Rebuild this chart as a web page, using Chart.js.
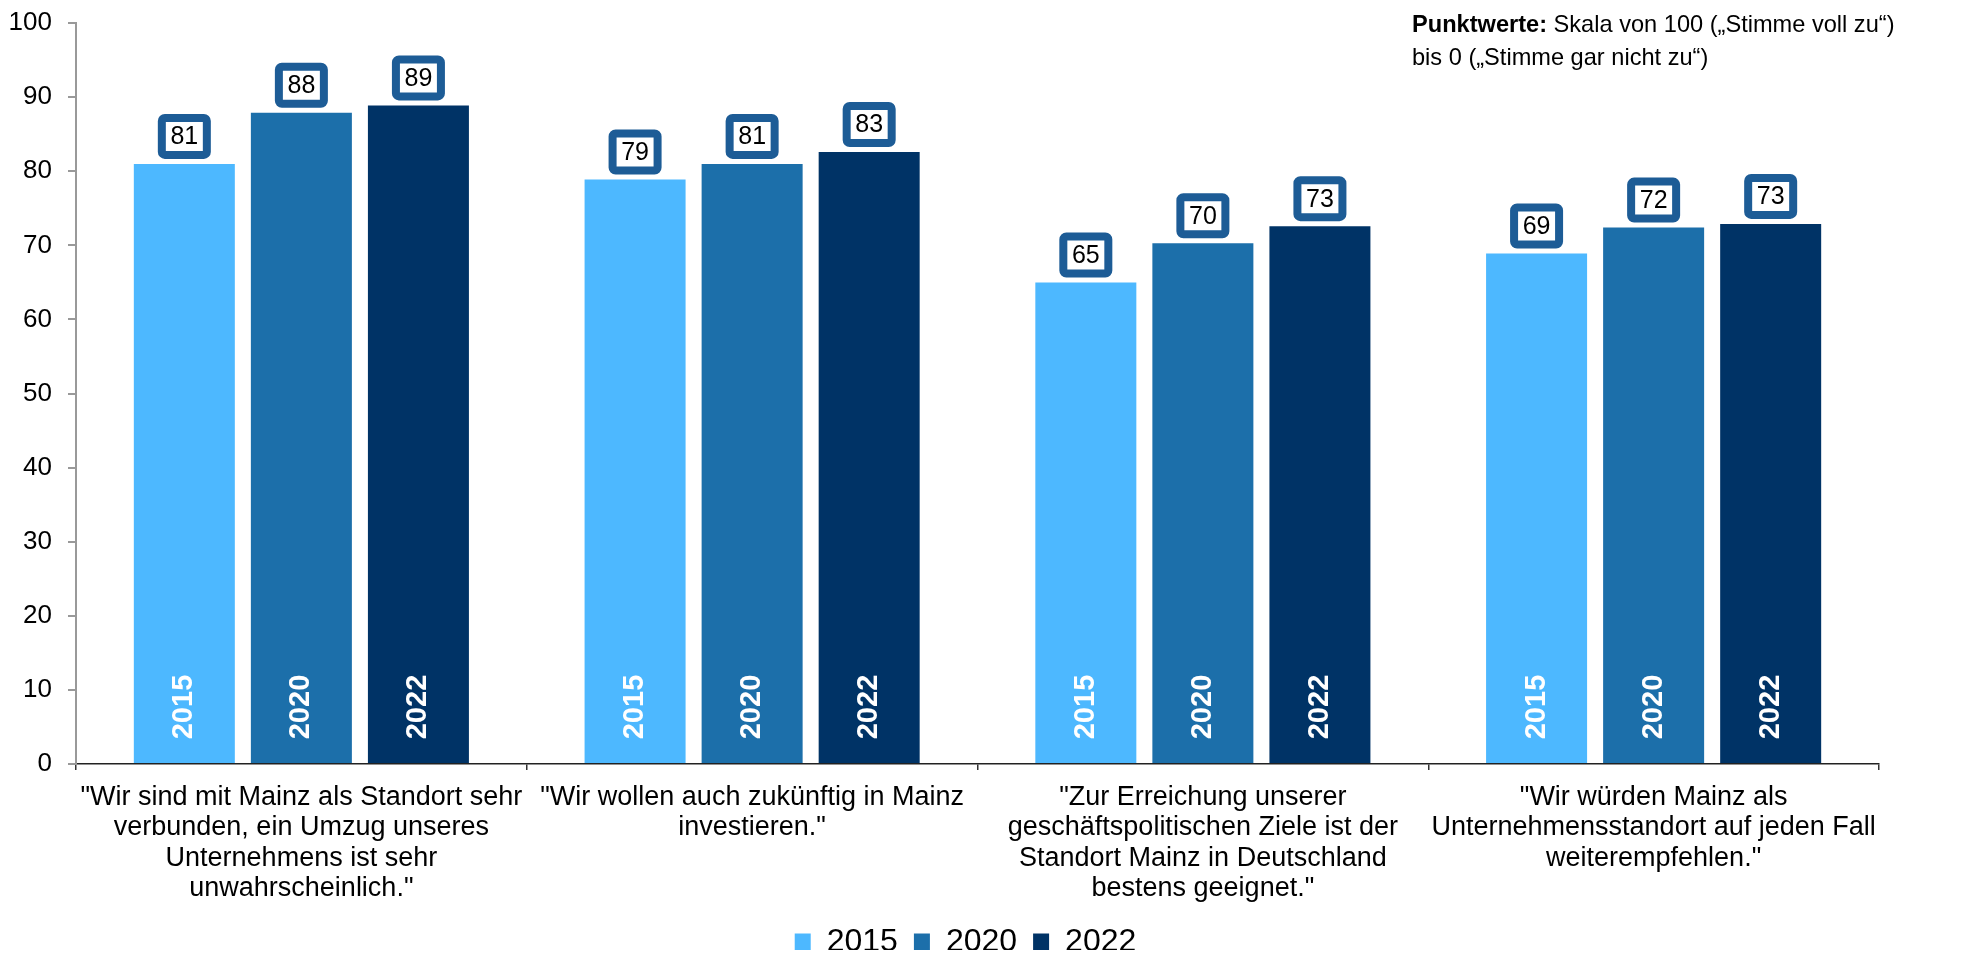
<!DOCTYPE html>
<html>
<head>
<meta charset="utf-8">
<script src="https://cdn.jsdelivr.net/npm/chart.js@4.4.0/dist/chart.umd.min.js"></script>
<style>
  html, body { margin: 0; padding: 0; background: #fff; }
</style>
</head>
<body>
<canvas id="myChart" width="1962" height="956"></canvas>
<script>
const categories = [
  ['"Wir sind mit Mainz als Standort sehr', 'verbunden, ein Umzug unseres', 'Unternehmens ist sehr', 'unwahrscheinlich."'],
  ['"Wir wollen auch zukünftig in Mainz', 'investieren."'],
  ['"Zur Erreichung unserer', 'geschäftspolitischen Ziele ist der', 'Standort Mainz in Deutschland', 'bestens geeignet."'],
  ['"Wir würden Mainz als', 'Unternehmensstandort auf jeden Fall', 'weiterempfehlen."']
];
const years = ["2015", "2020", "2022"];
const values2015 = [81.0, 78.9, 65.0, 68.9];
const values2020 = [87.9, 81.0, 70.3, 72.4];
const values2022 = [88.9, 82.6, 72.6, 72.9];
const barColors = ["#4DB8FF", "#1C6FAA", "#003366"];

const FONT = '"Liberation Sans", Arial, sans-serif';

// value boxes above the bars + year text inside the bars
const barLabels = {
  id: 'barLabels',
  afterDatasetsDraw(chart) {
    const ctx = chart.ctx;
    const base = chart.scales.y.getPixelForValue(0);
    chart.data.datasets.forEach((ds, i) => {
      chart.getDatasetMeta(i).data.forEach((bar, j) => {
        ctx.save();
        ctx.translate(bar.x, base - 57);
        ctx.rotate(-Math.PI / 2);
        ctx.font = 'bold 29px ' + FONT;
        ctx.fillStyle = '#fff';
        ctx.textAlign = 'center';
        ctx.textBaseline = 'middle';
        ctx.fillText(ds.label, 0, 0);
        ctx.restore();

        const w = 45, h = 37;
        const top = bar.y - 46;
        ctx.save();
        ctx.beginPath();
        ctx.roundRect(bar.x - w / 2, top, w, h, 3);
        ctx.fillStyle = '#fff';
        ctx.fill();
        ctx.lineWidth = 8;
        ctx.strokeStyle = '#1D5C96';
        ctx.stroke();
        ctx.font = '25px ' + FONT;
        ctx.fillStyle = '#000';
        ctx.textAlign = 'center';
        ctx.textBaseline = 'middle';
        ctx.fillText(String(Math.round(ds.data[j])), bar.x, top + h / 2 + 1);
        ctx.restore();
      });
    });
  }
};

// note in the top right corner
const note = {
  id: 'note',
  afterDraw(chart) {
    const ctx = chart.ctx;
    ctx.save();
    ctx.fillStyle = '#000';
    ctx.textBaseline = 'alphabetic';
    ctx.textAlign = 'left';
    const x = 1412;
    ctx.font = 'bold 23.6px ' + FONT;
    const bold = 'Punktwerte:';
    ctx.fillText(bold, x, 32);
    const bw = ctx.measureText(bold + ' ').width;
    ctx.font = '23.6px ' + FONT;
    ctx.fillText('Skala von 100 („Stimme voll zu“)', x + bw, 32);
    ctx.fillText('bis 0 („Stimme gar nicht zu“)', x, 65);
    ctx.restore();
  }
};

// legend sits a bit more to the right than chart.js puts it
const legendShift = {
  id: 'legendShift',
  afterLayout(chart) {
    const lg = chart.legend;
    lg.top -= 6; lg.bottom -= 6;
    lg.left += 26; lg.right += 26;
  }
};

new Chart(document.getElementById('myChart'), {
  type: 'bar',
  data: {
    labels: categories,
    datasets: years.map((y, i) => ({
      label: y,
      data: [values2015, values2020, values2022][i],
      backgroundColor: barColors[i],
      categoryPercentage: 0.779,
      barPercentage: 0.863
    }))
  },
  options: {
    responsive: false,
    animation: false,
    layout: { padding: { top: 9, right: 83, left: 0, bottom: 0 } },
    scales: {
      x: {
        grid: { drawOnChartArea: false, tickLength: 6, color: '#333', lineWidth: 1.5 },
        border: { color: '#222', width: 1.5 },
        ticks: { color: '#000', font: { family: FONT, size: 27, lineHeight: 1.13 }, padding: 12, maxRotation: 0, autoSkip: false },
        afterFit(scale) { scale.height = 956 - 764 - scale.chart.legend.height; }
      },
      y: {
        min: 0,
        max: 100,
        ticks: { stepSize: 10, color: '#000', font: { family: FONT, size: 26, lineHeight: 0.55 }, padding: 16 },
        grid: { drawOnChartArea: false, tickLength: 8, color: '#999', lineWidth: 2 },
        border: { color: '#999', width: 2 },
        afterFit(scale) { scale.width = 76; }
      }
    },
    plugins: {
      legend: {
        position: 'bottom',
        maxHeight: 40,
        labels: { boxWidth: 16, boxHeight: 17, padding: 16, color: '#000', font: { family: FONT, size: 32 } }
      },
      tooltip: { enabled: false }
    }
  },
  plugins: [barLabels, note, legendShift]
});
</script>
</body>
</html>
